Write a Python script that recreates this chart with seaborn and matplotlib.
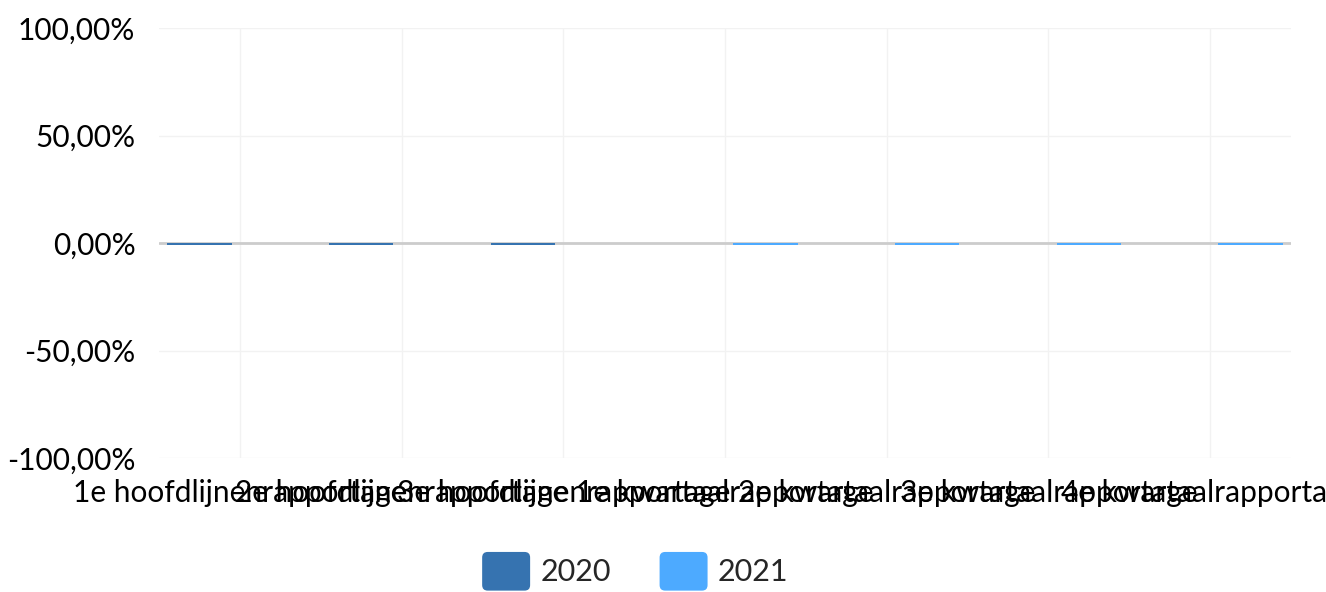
import numpy as np
import pandas as pd
import seaborn as sns
import matplotlib
matplotlib.use("Agg")
import matplotlib.pyplot as plt
from matplotlib.patches import Patch, FancyBboxPatch
from matplotlib.legend_handler import HandlerPatch
from matplotlib.ticker import FuncFormatter

categories = ["1e hoofdlijnenrapportage", "2e hoofdlijnenrapportage", "3e hoofdlijnenrapportage",
              "1e kwartaalrapportage", "2e kwartaalrapportage", "3e kwartaalrapportage",
              "4e kwartaalrapportage"]
series_names = ["2020", "2021"]
values_2020 = [-1.1, -1.1, -1.1, None, None, None, None]
values_2021 = [None, None, None, -1.1, -1.1, -1.1, -1.1]
y_ticks = [-100, -50, 0, 50, 100]
colors = {"2020": "#3673B0", "2021": "#4DAAFF"}

rows = []
for cat, v in zip(categories, values_2020):
    if v is not None:
        rows.append({"categorie": cat, "jaar": "2020", "waarde": v})
for cat, v in zip(categories, values_2021):
    if v is not None:
        rows.append({"categorie": cat, "jaar": "2021", "waarde": v})
df = pd.DataFrame(rows)

sns.set_style("white")
plt.rcParams["font.family"] = ["Lato", "DejaVu Sans"]

fig = plt.figure(figsize=(13.26, 5.92), dpi=100)
ax = fig.add_axes([159 / 1326, 1 - 458 / 592, (1291 - 159) / 1326, (458 - 28) / 592])

sns.barplot(data=df, x="categorie", y="waarde", hue="jaar", order=categories,
            hue_order=series_names, palette=colors, width=1.0, gap=0.2,
            dodge=True, ax=ax, legend=False, saturation=1, edgecolor="none")
for p in ax.patches:
    p.set_zorder(3)

ax.set_ylim(-100, 100)
ax.set_xlim(-0.5, len(categories) - 0.5)
ax.set_yticks(y_ticks)
ax.yaxis.set_major_formatter(FuncFormatter(lambda v, p: f"{v:.2f}".replace(".", ",") + "%"))
for y in y_ticks:
    if y != 0:
        ax.axhline(y, color="#f2f2f2", lw=1, zorder=0)
for i in range(len(categories)):
    ax.axvline(i, color="#f2f2f2", lw=1, zorder=0)
ax.axhline(0, color="#cccccc", lw=2, zorder=1)

for s in ax.spines.values():
    s.set_visible(False)
ax.set_xlabel("")
ax.set_ylabel("")
ax.tick_params(axis="both", length=0, labelsize=21.5, colors="#000000")
ax.tick_params(axis="x", pad=15)
ax.tick_params(axis="y", pad=17)


class RoundedHandler(HandlerPatch):
    def create_artists(self, legend, orig_handle, xdescent, ydescent, width, height, fontsize, trans):
        p = FancyBboxPatch((-xdescent, -ydescent), width, height,
                           boxstyle="round,pad=0,rounding_size=4",
                           facecolor=orig_handle.get_facecolor(), edgecolor="none",
                           transform=trans)
        return [p]


handles = [Patch(facecolor=colors[s], edgecolor="none", label=s) for s in series_names]
fig.legend(handles=handles, loc="center", bbox_to_anchor=(0.479, 0.035), ncol=2,
           frameon=False, fontsize=22, handlelength=1.57, handleheight=1.57,
           handletextpad=0.33, columnspacing=1.6,
           handler_map={Patch: RoundedHandler()})

fig.savefig("out.png", dpi=100)
